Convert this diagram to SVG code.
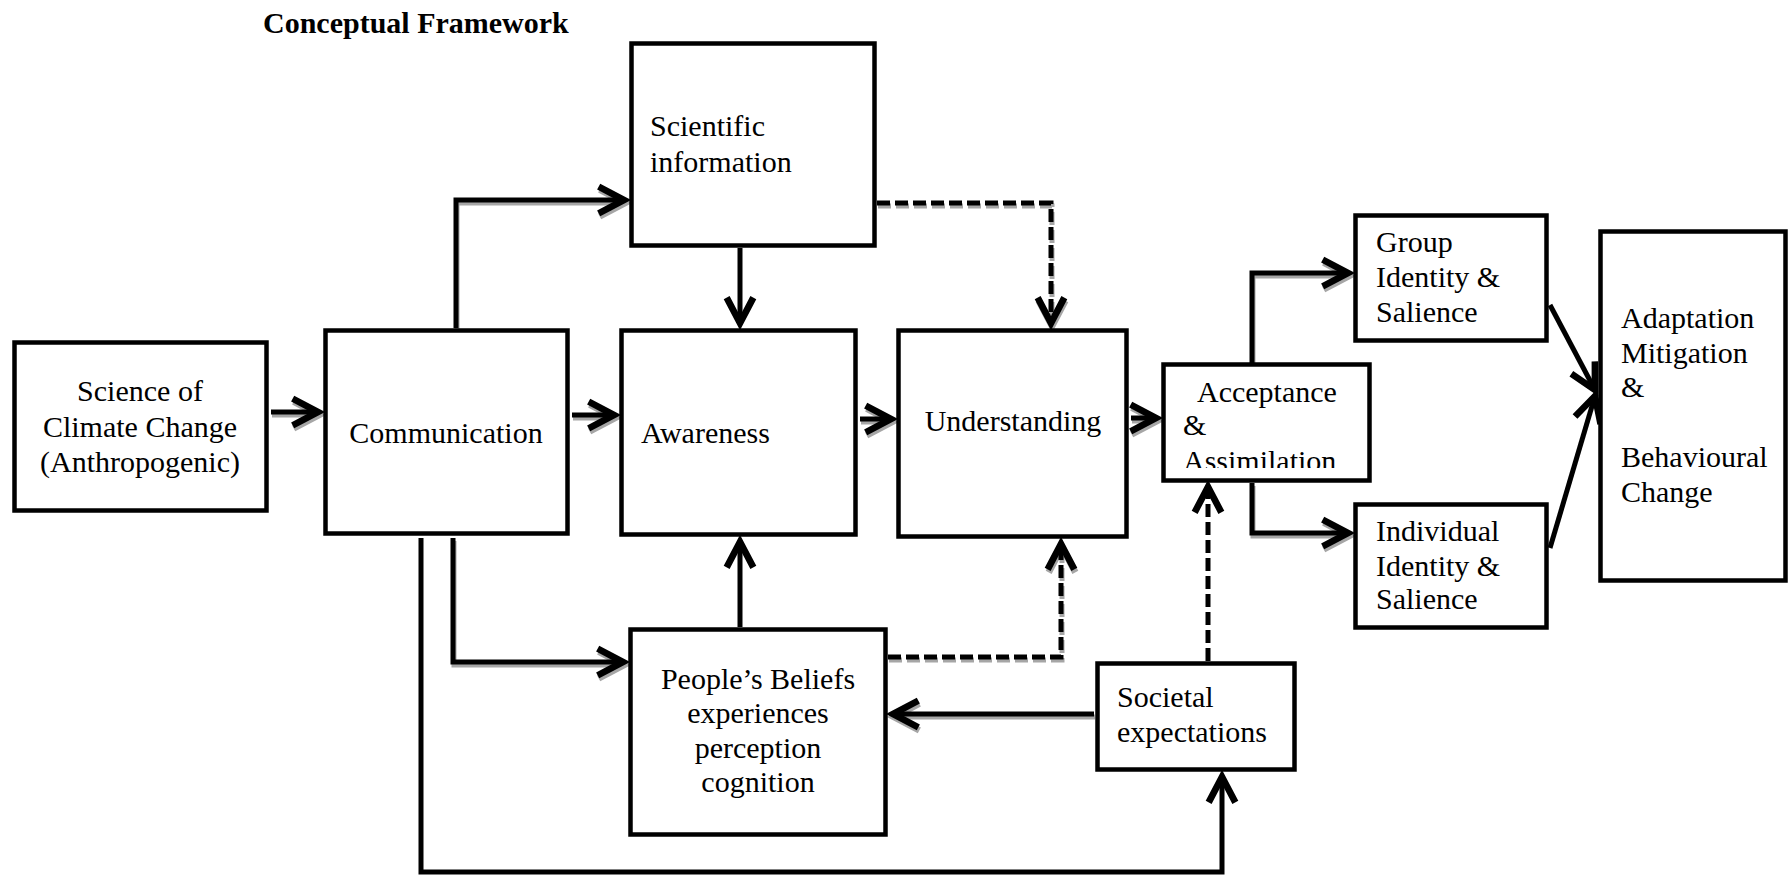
<svg xmlns="http://www.w3.org/2000/svg" width="1789" height="877" viewBox="0 0 1789 877">
<style>
.box{fill:#fff;stroke:#000;stroke-width:4.5}
.t{font-family:"Liberation Serif","Times New Roman",serif;font-size:30px;fill:#000}
.c{text-anchor:middle}
.title{font-family:"Liberation Serif","Times New Roman",serif;font-size:30px;font-weight:bold;fill:#000}
.ln{fill:none;stroke:#000;stroke-width:5;marker-end:url(#ah)}
.dash{stroke-dasharray:13 5}
.sh .ln{stroke:#a6a6a6;marker-end:url(#ahs)}
</style>
<defs>
<marker id="ah" markerUnits="userSpaceOnUse" orient="auto" refX="0" refY="0" markerWidth="40" markerHeight="40" viewBox="-25 -15 30 30" overflow="visible">
<path d="M-19,-10 L0,0 L-19,10" fill="none" stroke="#000" stroke-width="5" stroke-linejoin="miter"/>
</marker>
<marker id="ahs" markerUnits="userSpaceOnUse" orient="auto" refX="0" refY="0" markerWidth="40" markerHeight="40" viewBox="-25 -15 30 30" overflow="visible">
<path d="M-19,-10 L0,0 L-19,10" fill="none" stroke="#a6a6a6" stroke-width="5"/>
</marker>
<clipPath id="accClip"><rect x="1165" y="366" width="203" height="102"/></clipPath>
</defs>
<rect width="1789" height="877" fill="#fff"/>
<text class="title" x="263" y="33">Conceptual Framework</text>

<g id="connectors">
<g class="sh" transform="translate(1,3)">
<path class="ln" d="M271 412 H318"/>
<path class="ln" d="M572 415 H614"/>
<path class="ln" d="M860 419 H891"/>
<path class="ln" d="M1131 418 H1156"/>
<path class="ln" d="M456 328 V200 H624"/>
<path class="ln dash" d="M877 203 H1051 V323"/>
<path class="ln" d="M453 538 V662 H623"/>
<path class="ln dash" d="M888 657 H1061 V544"/>
<path class="ln" d="M1094 714 H893"/>
<path class="ln" d="M1252 363 V273 H1348"/>
<path class="ln" d="M1252 483 V533 H1348"/>
</g>
<path class="ln" d="M271 412 H318"/>
<path class="ln" d="M572 415 H614"/>
<path class="ln" d="M860 419 H891"/>
<path class="ln" d="M1131 418 H1156"/>
<path class="ln" d="M456 328 V200 H624"/>
<path class="ln" d="M740 248 V323"/>
<path class="ln dash" d="M877 203 H1051 V323"/>
<path class="ln" d="M453 538 V662 H623"/>
<path class="ln" d="M421 538 V872 H1222 V777"/>
<path class="ln" d="M740 627 V542"/>
<path class="ln dash" d="M888 657 H1061 V544"/>
<path class="ln" d="M1094 714 H893"/>
<path class="ln dash" d="M1208 661 V487"/>
<path class="ln" d="M1252 363 V273 H1348"/>
<path class="ln" d="M1252 483 V533 H1348"/>
<path class="ln" d="M1550 305 L1595 390"/>
<path class="ln" d="M1550 548 L1595 396"/>
</g>

<g id="n-science">
<rect class="box" x="14.5" y="342.5" width="252" height="168"/>
<text class="t c" x="140" y="401">Science of</text>
<text class="t c" x="140" y="437">Climate Change</text>
<text class="t c" x="140" y="472">(Anthropogenic)</text>
</g>
<g id="n-communication">
<rect class="box" x="325.5" y="330.5" width="242" height="203"/>
<text class="t c" x="446" y="443">Communication</text>
</g>
<g id="n-scientific">
<rect class="box" x="631.5" y="43.5" width="243" height="202"/>
<text class="t" x="650" y="136">Scientific</text>
<text class="t" x="650" y="172">information</text>
</g>
<g id="n-awareness">
<rect class="box" x="621.5" y="330.5" width="234" height="204"/>
<text class="t" x="641" y="443">Awareness</text>
</g>
<g id="n-understanding">
<rect class="box" x="898.5" y="330.5" width="228" height="206"/>
<text class="t c" x="1013" y="431">Understanding</text>
</g>
<g id="n-acceptance">
<rect class="box" x="1163.5" y="364.5" width="206" height="116"/>
<g clip-path="url(#accClip)">
<text class="t" x="1197" y="402">Acceptance</text>
<text class="t" x="1183" y="435">&amp;</text>
<text class="t" x="1183" y="471">Assimilation</text>
</g>
</g>
<g id="n-group">
<rect class="box" x="1355.5" y="215.5" width="191" height="125"/>
<text class="t" x="1376" y="252">Group</text>
<text class="t" x="1376" y="287">Identity &amp;</text>
<text class="t" x="1376" y="322">Salience</text>
</g>
<g id="n-individual">
<rect class="box" x="1355.5" y="504.5" width="191" height="123"/>
<text class="t" x="1376" y="541">Individual</text>
<text class="t" x="1376" y="576">Identity &amp;</text>
<text class="t" x="1376" y="609">Salience</text>
</g>
<g id="n-adaptation">
<rect class="box" x="1600.5" y="231.5" width="185" height="349"/>
<text class="t" x="1621" y="328">Adaptation</text>
<text class="t" x="1621" y="363">Mitigation</text>
<text class="t" x="1621" y="397">&amp;</text>
<text class="t" x="1621" y="467">Behavioural</text>
<text class="t" x="1621" y="502">Change</text>
</g>
<g id="n-beliefs">
<rect class="box" x="630.5" y="629.5" width="255" height="205"/>
<text class="t c" x="758" y="689">People’s Beliefs</text>
<text class="t c" x="758" y="723">experiences</text>
<text class="t c" x="758" y="758">perception</text>
<text class="t c" x="758" y="792">cognition</text>
</g>
<g id="n-societal">
<rect class="box" x="1097.5" y="663.5" width="197" height="106"/>
<text class="t" x="1117" y="707">Societal</text>
<text class="t" x="1117" y="742">expectations</text>
</g>
</svg>
